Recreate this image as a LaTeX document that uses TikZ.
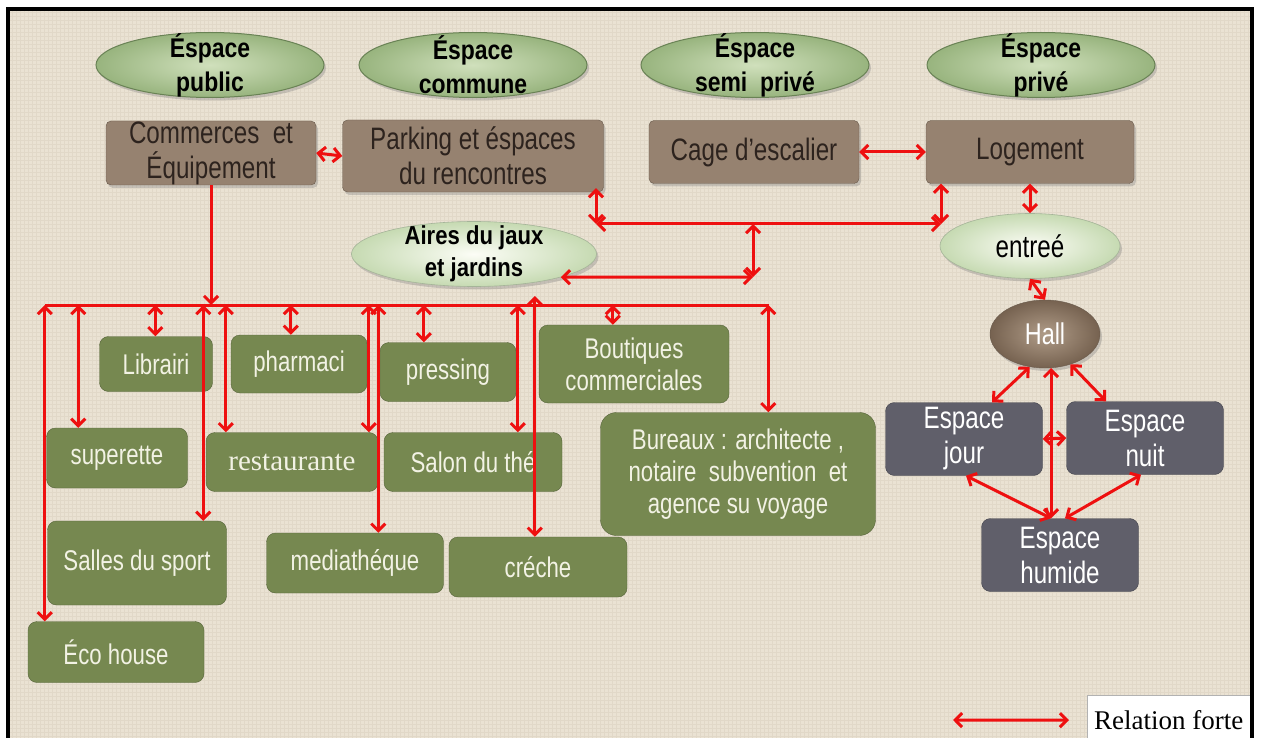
\documentclass[tikz,border=0pt]{standalone}
\usepackage{fontspec}
\setmainfont{Liberation Sans}
\newfontfamily\narrowfont{Liberation Sans}[FakeStretch=0.78]
\newfontfamily\headfont{Liberation Sans}[FakeStretch=0.85]
\newfontfamily\bookfont{Liberation Serif}
\usepackage{tikz}
\usetikzlibrary{positioning}
\usetikzlibrary{shapes.geometric}
\usetikzlibrary{arrows.meta}
\usetikzlibrary{shadows}

\definecolor{relred}{RGB}{238,16,16}
\definecolor{bgbeige}{RGB}{234,226,211}
\definecolor{gridline}{RGB}{225,216,200}
\definecolor{brownbox}{RGB}{150,130,112}
\definecolor{brownedge}{RGB}{105,90,76}
\definecolor{browntext}{RGB}{45,35,30}
\definecolor{olive}{RGB}{118,136,80}
\definecolor{oliveedge}{RGB}{86,100,58}
\definecolor{olivetext}{RGB}{242,242,228}
\definecolor{slate}{RGB}{96,95,106}
\definecolor{slateedge}{RGB}{70,70,78}
\definecolor{headin}{RGB}{208,224,188}
\definecolor{headout}{RGB}{152,180,126}
\definecolor{headedge}{RGB}{105,130,85}
\definecolor{palein}{RGB}{252,253,246}
\definecolor{paleout}{RGB}{198,218,178}
\definecolor{hallin}{RGB}{176,156,136}
\definecolor{hallout}{RGB}{118,98,80}

\tikzset{
  boxshadow/.style={drop shadow={shadow xshift=2pt,shadow yshift=-3pt,opacity=0.35}},
  head/.style={ellipse,draw=headedge,line width=1pt,inner color=headin,outer color=headout,
    minimum width=228pt,minimum height=65pt,inner sep=0pt,boxshadow},
  headlbl/.style={align=center,inner sep=0pt,font=\headfont\bfseries\fontsize{27}{34}\selectfont},
  hub/.style={rectangle,rounded corners=5pt,draw=brownedge,fill=brownbox,text=browntext,
    align=center,inner sep=0pt,font=\narrowfont\fontsize{31}{35}\selectfont,boxshadow},
  pale/.style={ellipse,draw=headedge!60,line width=0.6pt,inner color=palein,outer color=paleout,
    inner sep=0pt,font=\narrowfont\fontsize{31}{34}\selectfont,boxshadow},
  palelbl/.style={align=center,inner sep=0pt,font=\headfont\bfseries\fontsize{26}{32}\selectfont},
  hallnode/.style={ellipse,draw=brownedge,inner color=hallin,outer color=hallout,text=white,
    minimum width=110pt,minimum height=68pt,inner sep=0pt,
    font=\narrowfont\fontsize{30}{32}\selectfont,boxshadow},
  unit/.style={rectangle,rounded corners=9pt,draw=oliveedge,fill=olive,text=olivetext,
    align=center,inner sep=0pt,font=\narrowfont\fontsize{28.5}{32}\selectfont},
  room/.style={rectangle,rounded corners=9pt,draw=slateedge,fill=slate,text=white,
    align=center,inner sep=0pt,minimum width=157pt,minimum height=73pt,
    font=\narrowfont\fontsize{31}{35}\selectfont},
  legbox/.style={rectangle,draw=black!30,fill=white,inner sep=0pt,
    minimum width=163pt,minimum height=50pt,font=\bookfont\fontsize{27}{30}\selectfont},
  bus/.style={draw=relred,line width=3pt},
  rel/.style={bus,{Straight Barb[length=7pt,width=14pt]}-{Straight Barb[length=7pt,width=14pt]}},
  one/.style={bus,-{Straight Barb[length=7pt,width=14pt]}}
}

\begin{document}
\begin{tikzpicture}[x=1pt,y=-1pt]
\useasboundingbox (0,0) rectangle (1261,738);
\clip (0,0) rectangle (1261,738);
\fill[white] (0,0) rectangle (1261,738);
\fill[bgbeige] (8,9) rectangle (1252,760);
\draw[gridline,line width=0.35pt,step=4pt] (10,738) grid (1250,10);

% levels of privacy
\node[head,label={[headlbl]center:Éspace\\public}] (hpub) at (210,65) {};
\node[head,label={[headlbl]center:Éspace\\commune}] (hcom) at (473,65) {};
\node[head,label={[headlbl]center:Éspace\\semi~ privé}] (hsemi) at (755,65) {};
\node[head,label={[headlbl]center:Éspace\\privé}] (hpriv) at (1041,65) {};

% main zones
\node[hub,minimum width=210pt,minimum height=64pt] (com) at (211,153) {Commerces~ et\\Équipement};
\node[hub,minimum width=261pt,minimum height=72pt] (park) at (473,156) {Parking et éspaces\\du rencontres};
\node[hub,minimum width=210pt,minimum height=63pt] (cage) at (754,152) {Cage d’escalier};
\node[hub,minimum width=208pt,minimum height=63pt] (log) at (1030,152) {Logement};

\node[pale,minimum width=245pt,minimum height=65pt,
  label={[palelbl]center:Aires du jaux\\et jardins}] (aires) at (474,254) {};
\node[pale,minimum width=180pt,minimum height=65pt] (ent) at (1030,246) {entreé};
\node[hallnode] (hall) at (1045,334) {Hall};

% equipments
\node[unit,minimum width=113pt,minimum height=55pt] (lib) at (156,364) {Librairi};
\node[unit,minimum width=136pt,minimum height=58pt] (pharm) at (299,364) {pharmaci};
\node[unit,minimum width=136pt,minimum height=59pt] (press) at (448,372) {pressing};
\node[unit,minimum width=190pt,minimum height=78pt] (bout) at (634,364) {Boutiques\\commerciales};
\node[unit,minimum width=141pt,minimum height=60pt] (sup) at (117,458) {superette};
\node[unit,minimum width=172pt,minimum height=59pt,font=\bookfont\fontsize{29}{32}\selectfont] (resto) at (292,462) {restaurante};
\node[unit,minimum width=178pt,minimum height=59pt] (salon) at (473,462) {Salon du thé};
\node[unit,minimum width=275pt,minimum height=123pt,rounded corners=16pt] (bur) at (738,474)
  {Bureaux : architecte ,\\notaire~ subvention~ et\\agence su voyage};
\node[unit,minimum width=179pt,minimum height=84pt] (salles) at (137,563) {Salles du sport};
\node[unit,minimum width=177pt,minimum height=60pt] (media) at (355,563) {mediathéque};
\node[unit,minimum width=178pt,minimum height=60pt] (creche) at (538,567) {créche};
\node[unit,minimum width=176pt,minimum height=61pt] (eco) at (116,652) {Éco house};

% dwelling
\node[room] (jour) at (964,439) {Espace\\jour};
\node[room] (nuit) at (1145,438) {Espace\\nuit};
\node[room] (hum) at (1060,555) {Espace\\humide};

% legend
\node[legbox,anchor=north west] (leg) at (1087,695) {Relation forte};
\coordinate (legA) at (953,720);

% junctions
\coordinate (busL) at (45,305);
\coordinate (busR) at (769,305);
\coordinate (parkJ) at (596,224);
\coordinate (logJ) at (941,224);
\coordinate (airesJ) at (753,224);
\coordinate (airesK) at (753,277);

% relations between zones
\draw[rel] (com.east) -- (park.west);
\draw[rel] (cage.east) -- (log.west);
\draw[rel] ([yshift=4pt]park.south -| parkJ) -- (parkJ);
\draw[rel] (parkJ) -- (logJ);
\draw[rel] (log.south -| logJ) -- (logJ);
\draw[rel] (airesJ) -- (airesK);
\draw[rel] (airesK) -- (aires.south east);
\draw[rel] (log.south) -- (ent.north);
\draw[rel] (ent.south) -- (hall.north);

% equipment bus
\draw[one] (com.south) -- (com.south |- busL);
\draw[bus] (busL) -- (busR);
\foreach \n/\dx in {eco/17,sup/32,lib/56,salles/156,resto/20,pharm/60,
                    resto/163,media/112,press/44,salon/134,bout/74,bur/168}{
  \path (\n.north west) ++(\dx,0) coordinate (drop);
  \draw[rel] (drop |- busL) -- (drop);
}
\path (creche.north west) ++(86,0) coordinate (dc);
\path (dc |- busL) ++(0,-9) coordinate (dcTop);
\draw[rel] (dcTop) -- (dc);

% inside the dwelling
\draw[rel] (hall.-115) -- ([xshift=28pt]jour.north);
\draw[rel] (hall.-50) -- ([xshift=-39pt]nuit.north);
\draw[rel] (hall.-80) -- (hall.-80 |- hum.north);
\draw[rel] (jour.east) -- (nuit.west);
\draw[rel] ([xshift=2pt]jour.south) -- ([xshift=-9pt]hum.north);
\draw[rel] ([xshift=-4pt]nuit.south) -- ([xshift=5pt]hum.north);

\draw[rel] (legA) -- ([xshift=-18pt]leg.west);

\draw[black,line width=4pt] (8,9) rectangle (1252,760);
\end{tikzpicture}
\end{document}
